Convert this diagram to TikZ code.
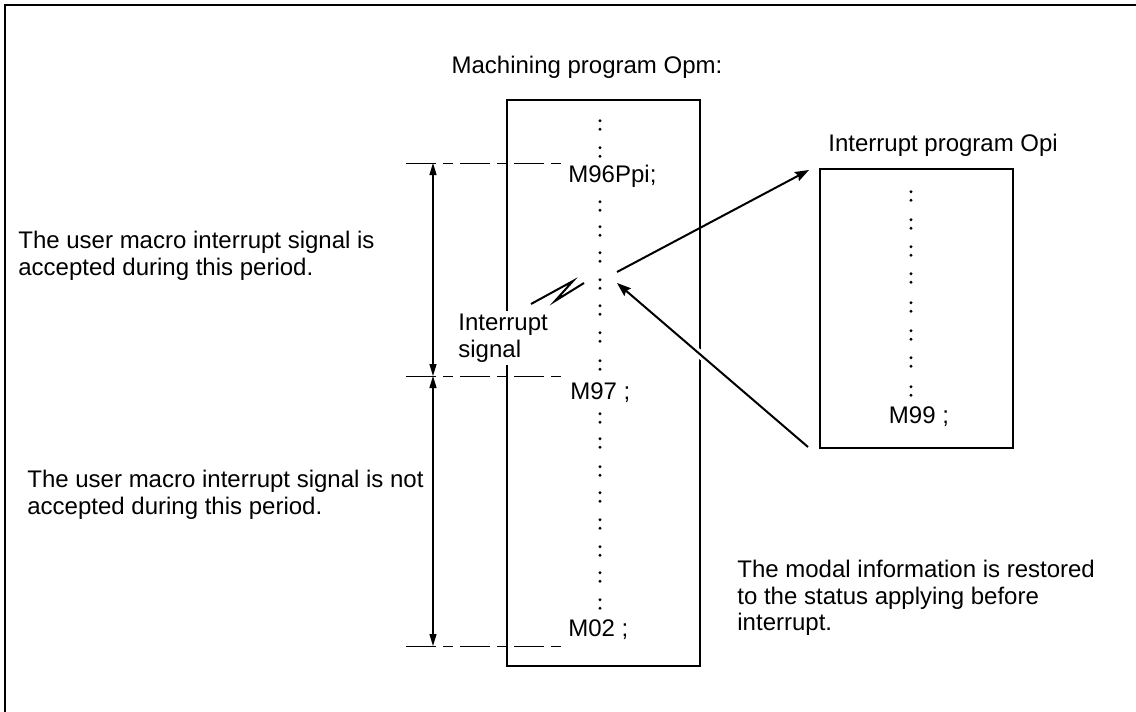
\documentclass[tikz,border=0pt]{standalone}
\usepackage{fontspec}
\setmainfont{Liberation Sans}
\usetikzlibrary{arrows.meta}
\tikzset{>=Stealth,every node/.style={font=\fontsize{12}{13.3}\selectfont,inner sep=0pt},
progbox/.style={draw,line width=1pt},txt/.style={anchor=west,align=left},
guide/.style={line width=.5pt,dash pattern=on 15pt off 3.5pt on 5pt off 3.5pt},
dim/.style={line width=.6pt,{Triangle[length=6pt,width=3.5pt]}-{Triangle[length=6pt,width=3.5pt]}},
flow/.style={line width=1pt,-{Stealth[length=7pt,width=5pt,inset=1pt]}}}

\begin{document}
\begin{tikzpicture}[x=.5pt,y=-.5pt]
\useasboundingbox (0,0) rectangle (1136,712);
\draw[line width=1pt] (5,712)--(5,5)--(1136,5);
% machining program
\node (opmtitle) at (587,67) {Machining program Opm:};
\node[progbox,minimum width=96.5pt,minimum height=283pt] (opm) at (603.5,383) {};
\node[txt] (m96) at (568,176) {M96Ppi;};\node[txt] (m97) at (570,393) {M97 ;};\node[txt] (m02) at (568,630) {M02 ;};
\foreach \y in {125,152,206,231,257,284,310,337,365,418,443,471,497,524,551,577,604}{\fill (600,\y-4.25) circle(1.6);\fill (600,\y+4.25) circle(1.6);}
% interrupt program
\node[txt] (opititle) at (828,145) {Interrupt program Opi};
\node[progbox,minimum width=96.5pt,minimum height=139.5pt] (opi) at (916.5,308.5) {};
\node (m99) at (919,417) {M99 ;};
\foreach \y in {196,224,251,278,307,335,362,391}{\fill (911,\y-4.25) circle(1.6);\fill (911,\y+4.25) circle(1.6);}
% periods
\coordinate (a1) at (406,163);\coordinate (a2) at (565,163);
\coordinate (b1) at (406,376);\coordinate (b2) at (565,376);
\coordinate (c1) at (406,646);\coordinate (c2) at (565,646);
\draw[guide] (a1)--(a2);\draw[guide] (b1)--(b2);\draw[guide] (c1)--(c2);
\coordinate (acctop) at (433,163);\coordinate (accbot) at (433,376);\coordinate (nacbot) at (433,646);
\draw[dim] (acctop)--(accbot);\draw[dim] (accbot)--(nacbot);
\node[txt] (acc) at (18,256) {The user macro interrupt signal is\\accepted during this period.};
\node[txt] (nacc) at (27,495) {The user macro interrupt signal is not\\accepted during this period.};
% interrupt signal
\node[txt,fill=white,inner sep=1.5pt] (sig) at (455,338) {Interrupt\\signal};
\draw[line width=1pt] (531,304)--(573,281)--(555,301)--(584,283);
\coordinate (sigout) at (617,272);\coordinate (opiin) at (809,170);
\coordinate (opiout) at (808,447);\coordinate (sigin) at (617,283);
\draw[flow] (sigout)--(opiin);
\draw[flow,preaction={draw=white,line width=4pt,-}] (opiout)--(sigin);
\node[txt] (modal) at (737,598) {The modal information is restored\\to the status applying before\\interrupt.};
\end{tikzpicture}
\end{document}
